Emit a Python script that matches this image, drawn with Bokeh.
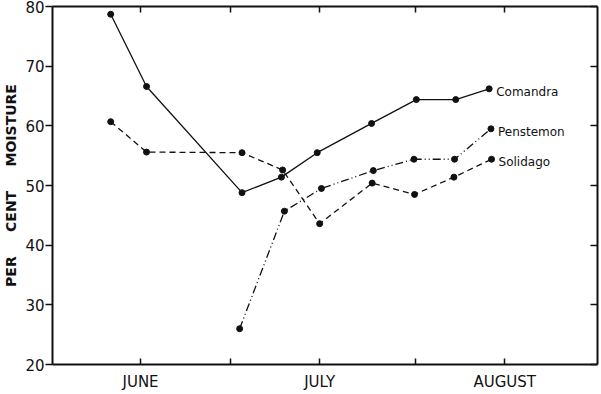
from bokeh.plotting import figure
from bokeh.models import Range1d, LinearAxis, FixedTicker, ColumnDataSource
from bokeh.embed import file_html
from bokeh.resources import INLINE
from bokeh.core.properties import value

# x = days after June 1
comandra_days = [-5, 1, 17, 23.6, 29.6, 38.7, 46.2, 52.8, 58.4]
comandra_pct = [78.7, 66.6, 48.8, 51.4, 55.5, 60.4, 64.4, 64.4, 66.2]
solidago_days = [-5, 1, 17, 23.8, 30.0, 38.8, 45.9, 52.5, 58.8]
solidago_pct = [60.7, 55.6, 55.5, 52.6, 43.6, 50.4, 48.5, 51.4, 54.4]
penstemon_days = [16.6, 24.1, 30.3, 39.0, 45.8, 52.6, 58.7]
penstemon_pct = [26.0, 45.7, 49.5, 52.5, 54.4, 54.4, 59.5]

series_names = ["Comandra", "Penstemon", "Solidago"]
month_ticks = [0, 15, 30, 46, 61]
month_labels = ["JUNE", "", "JULY", "", "AUGUST"]
y_ticks = [20, 30, 40, 50, 60, 70, 80]
y_title = "\u00a0\u00a0\u00a0\u00a0\u00a0".join(["PER", "CENT", "MOISTURE"])

INK = "#111111"
FONT = "DejaVu Sans"

p = figure(frame_width=545, frame_height=358,
           x_range=Range1d(-14.75, 76.55), y_range=Range1d(20, 80),
           output_backend="svg", toolbar_location=None,
           min_border_left=52, min_border_right=3, min_border_top=6, min_border_bottom=28,
           background_fill_color="white", border_fill_color="white",
           outline_line_color=None)
p.grid.visible = False

xa = p.xaxis[0]
xa.ticker = FixedTicker(ticks=month_ticks)
xa.major_label_overrides = {t: l for t, l in zip(month_ticks, month_labels)}
xa.major_tick_in = 6
xa.major_tick_out = 0
xa.minor_tick_line_color = None
xa.axis_line_width = 2
xa.axis_line_color = INK
xa.major_tick_line_width = 1.5
xa.major_tick_line_color = INK
xa.major_label_standoff = 8
xa.major_label_text_font = FONT
xa.major_label_text_font_size = "15px"
xa.major_label_text_color = INK

ya = p.yaxis[0]
ya.ticker = FixedTicker(ticks=y_ticks)
ya.major_tick_in = 0
ya.major_tick_out = 7
ya.minor_tick_line_color = None
ya.axis_line_width = 2
ya.axis_line_color = INK
ya.major_tick_line_width = 1.5
ya.major_tick_line_color = INK
ya.major_label_standoff = 1
ya.major_label_text_font = FONT
ya.major_label_text_font_size = "15px"
ya.major_label_text_color = INK
ya.axis_label = y_title
ya.axis_label_standoff = 3
ya.axis_label_text_font = FONT
ya.axis_label_text_font_style = "bold"
ya.axis_label_text_font_size = "14px"
ya.axis_label_text_color = INK

ra = LinearAxis(ticker=FixedTicker(ticks=y_ticks), major_tick_in=7, major_tick_out=0,
                minor_tick_line_color=None, axis_line_width=2, axis_line_color=INK,
                major_tick_line_width=1.5, major_tick_line_color=INK,
                major_label_standoff=0, major_label_text_font_size="0px",
                major_label_overrides={t: "" for t in y_ticks})
p.add_layout(ra, "right")

ta = LinearAxis(ticker=FixedTicker(ticks=month_ticks), major_tick_in=6, major_tick_out=0,
                minor_tick_line_color=None, axis_line_width=2, axis_line_color=INK,
                major_tick_line_width=1.5, major_tick_line_color=INK,
                major_label_standoff=0, major_label_text_font_size="0px",
                major_label_overrides={t: "" for t in month_ticks})
p.add_layout(ta, "above")

p.line(comandra_days, comandra_pct, line_color=INK, line_width=1.3)
p.scatter(comandra_days, comandra_pct, size=6, color=INK)
p.line(solidago_days, solidago_pct, line_color=INK, line_width=1.3, line_dash="6 4")
p.scatter(solidago_days, solidago_pct, size=6, color=INK)
p.line(penstemon_days, penstemon_pct, line_color=INK, line_width=1.3, line_dash="8 3 1 3 1 3")
p.scatter(penstemon_days, penstemon_pct, size=6, color=INK)

lab_src = ColumnDataSource(dict(
    x=[comandra_days[-1], penstemon_days[-1], solidago_days[-1]],
    y=[comandra_pct[-1], penstemon_pct[-1], solidago_pct[-1]],
    text=series_names))
p.text(x="x", y="y", text="text", source=lab_src, x_offset=7, y_offset=3,
       text_baseline="middle", text_align="left", text_font=value(FONT),
       text_font_size="12px", text_color=INK)

open("out.html", "w").write(file_html(p, INLINE))
